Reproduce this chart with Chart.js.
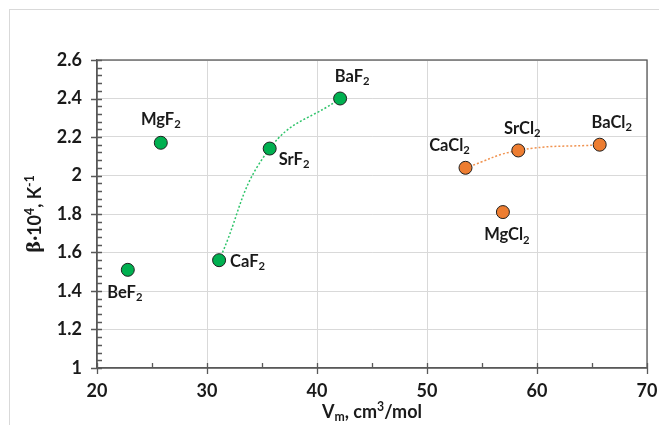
<!DOCTYPE html>
<html>
<head>
<meta charset="utf-8">
<script src="https://cdn.jsdelivr.net/npm/chart.js@4.4.1/dist/chart.umd.min.js"></script>
<style>
    body { margin: 0; background: #fff; }
    #wrap { width: 659px; height: 425px; }
</style>
</head>
<body>
<div id="wrap"><canvas id="chart" width="659" height="425"></canvas></div>
<script>
// Data
const fluorideNames = ['BeF', 'MgF', 'CaF', 'SrF', 'BaF'];
const fluorideVm = [22.8, 25.8, 31.1, 35.7, 42.1];
const fluorideBeta = [1.51, 2.17, 1.56, 2.14, 2.40];
const fluorideTrend = [2, 3, 4];   // CaF2, SrF2, BaF2

const chlorideNames = ['CaCl', 'SrCl', 'BaCl', 'MgCl'];
const chlorideVm = [53.5, 58.3, 65.7, 56.9];
const chlorideBeta = [2.04, 2.13, 2.16, 1.81];
const chlorideTrend = [0, 1, 2];   // CaCl2, SrCl2, BaCl2

const subscript = '2';
const xTicks = [20, 30, 40, 50, 60, 70];
const yTicks = [1, 1.2, 1.4, 1.6, 1.8, 2, 2.2, 2.4, 2.6];

// label placement [dx, dy, align] - positions only
const fluorideLabelPos = [[-3, 23, 'center'], [0, -23, 'center'], [11, 1, 'left'], [9, 11, 'left'], [12, -22, 'center']];
const chlorideLabelPos = [[-16, -22, 'center'], [4, -22, 'center'], [12, -22, 'center'], [4, 23, 'center']];

const FONT = 'Lato, "Open Sans", sans-serif';
const GREEN = '#00b050';
const ORANGE = '#ed7d31';
const AXIS = '#595959';

const toPoints = (xs, ys) => xs.map((x, i) => ({ x: x, y: ys[i] }));
const pick = (pts, idx) => idx.map(i => pts[i]);

const fluoridePts = toPoints(fluorideVm, fluorideBeta);
const chloridePts = toPoints(chlorideVm, chlorideBeta);

// draw text with a raised/lowered small part, e.g. CaF + 2
function drawRich(ctx, parts, x, y, align, size) {
    let widths = parts.map(p => {
        ctx.font = 'bold ' + (p.small ? size * 0.68 : size) + 'px ' + p.font;
        return ctx.measureText(p.t).width;
    });
    const total = widths.reduce((a, b) => a + b, 0);
    let cx = align === 'center' ? x - total / 2 : x;
    ctx.textAlign = 'left';
    ctx.textBaseline = 'middle';
    parts.forEach((p, i) => {
        ctx.font = 'bold ' + (p.small ? size * 0.68 : size) + 'px ' + p.font;
        ctx.fillText(p.t, cx, y + (p.dy || 0));
        cx += widths[i];
    });
}

const labelPlugin = {
    id: 'labels',
    afterDatasetsDraw(chart) {
        const ctx = chart.ctx;
        ctx.save();
        ctx.fillStyle = '#1a1a1a';
        [[0, fluorideNames, fluorideLabelPos], [1, chlorideNames, chlorideLabelPos]].forEach(([di, names, pos]) => {
            const meta = chart.getDatasetMeta(di);
            meta.data.forEach((el, i) => {
                const p = pos[i];
                drawRich(ctx, [
                    { t: names[i], font: FONT },
                    { t: subscript, font: FONT, small: true, dy: 5 }
                ], el.x + p[0], el.y + p[1], p[2], 16.5);
            });
        });
        ctx.restore();
    }
};

const framePlugin = {
    id: 'frame',
    beforeDraw(chart) {
        const ctx = chart.ctx;
        ctx.save();
        ctx.strokeStyle = '#d9d9d9';
        ctx.lineWidth = 1;
        ctx.strokeRect(9.5, 9.5, 800, 600);
        ctx.restore();
    },
    afterDraw(chart) {
        const ctx = chart.ctx;
        const a = chart.chartArea;
        const xs = chart.scales.x, ys = chart.scales.y;
        ctx.save();
        ctx.strokeStyle = AXIS;
        ctx.lineWidth = 1.3;
        ctx.strokeRect(a.left, a.top, a.right - a.left, a.bottom - a.top);
        ctx.beginPath();
        // y ticks: majors cross the axis, minors inside
        for (let v = 10; v <= 26; v += 0.4) {
            const y = Math.round(ys.getPixelForValue(v / 10)) + 0.5;
            const major = Math.abs(v % 2) < 0.01 || Math.abs(v % 2 - 2) < 0.01;
            ctx.moveTo(a.left - (major ? 6 : 0), y);
            ctx.lineTo(a.left + 5, y);
        }
        // x ticks
        for (let v = 20; v <= 70; v += 5) {
            const x = Math.round(xs.getPixelForValue(v)) + 0.5;
            const major = v % 10 === 0;
            ctx.moveTo(x, a.bottom + (major ? 6 : 0));
            ctx.lineTo(x, a.bottom - 5);
        }
        ctx.stroke();

        // axis titles
        ctx.fillStyle = '#1a1a1a';
        drawRich(ctx, [
            { t: 'V', font: FONT },
            { t: 'm', font: FONT, small: true, dy: 5 },
            { t: ', cm', font: FONT },
            { t: '3', font: FONT, small: true, dy: -5 },
            { t: '/mol', font: FONT }
        ], (a.left + a.right) / 2, 412, 'center', 18);

        ctx.translate(35, (a.top + a.bottom) / 2);
        ctx.rotate(-Math.PI / 2);
        drawRich(ctx, [
            { t: 'β', font: '"DejaVu Serif", serif' },
            { t: '·10', font: FONT },
            { t: '4', font: FONT, small: true, dy: -5 },
            { t: ', K', font: FONT },
            { t: '-1', font: FONT, small: true, dy: -5 }
        ], 0, 0, 'center', 18);
        ctx.restore();
    }
};

new Chart(document.getElementById('chart'), {
    type: 'scatter',
    data: {
        datasets: [
            {
                label: 'Fluorides',
                data: fluoridePts,
                backgroundColor: GREEN,
                borderColor: '#1f1f1f',
                borderWidth: 1,
                pointRadius: 6.5,
                order: 1
            },
            {
                label: 'Chlorides',
                data: chloridePts,
                backgroundColor: ORANGE,
                borderColor: '#1f1f1f',
                borderWidth: 1,
                pointRadius: 6.5,
                order: 1
            },
            {
                label: 'Fluoride trend',
                data: pick(fluoridePts, fluorideTrend),
                showLine: true,
                pointRadius: 0,
                borderColor: '#2ec46a',
                borderWidth: 1.5,
                borderDash: [2, 2],
                tension: 0.45,
                order: 2
            },
            {
                label: 'Chloride trend',
                data: pick(chloridePts, chlorideTrend),
                showLine: true,
                pointRadius: 0,
                borderColor: '#f0924f',
                borderWidth: 1.5,
                borderDash: [2, 2],
                tension: 0.45,
                order: 2
            }
        ]
    },
    options: {
        responsive: false,
        animation: false,
        layout: { padding: { left: 0, top: 60, right: 12, bottom: 0 } },
        plugins: {
            legend: { display: false },
            tooltip: { enabled: false }
        },
        scales: {
            x: {
                type: 'linear',
                min: xTicks[0],
                max: xTicks[xTicks.length - 1],
                afterBuildTicks: s => { s.ticks = xTicks.map(v => ({ value: v })); },
                afterFit: s => { s.height = 57; s.paddingRight = 0; s.paddingLeft = 0; },
                ticks: {
                    color: '#1a1a1a',
                    padding: 12,
                    font: { family: FONT, size: 18, weight: 'bold' }
                },
                grid: { color: '#d9d9d9', drawTicks: false },
                border: { color: AXIS, width: 1.3 }
            },
            y: {
                type: 'linear',
                min: yTicks[0],
                max: yTicks[yTicks.length - 1],
                afterBuildTicks: s => { s.ticks = yTicks.map(v => ({ value: v })); },
                afterFit: s => { s.width = 97; s.paddingTop = 0; s.paddingBottom = 0; },
                ticks: {
                    color: '#1a1a1a',
                    padding: 15,
                    font: { family: FONT, size: 18, weight: 'bold' },
                    callback: v => String(Number(v.toFixed(1)))
                },
                grid: { color: '#d9d9d9', drawTicks: false },
                border: { color: AXIS, width: 1.3 }
            }
        }
    },
    plugins: [framePlugin, labelPlugin]
});
</script>
</body>
</html>
